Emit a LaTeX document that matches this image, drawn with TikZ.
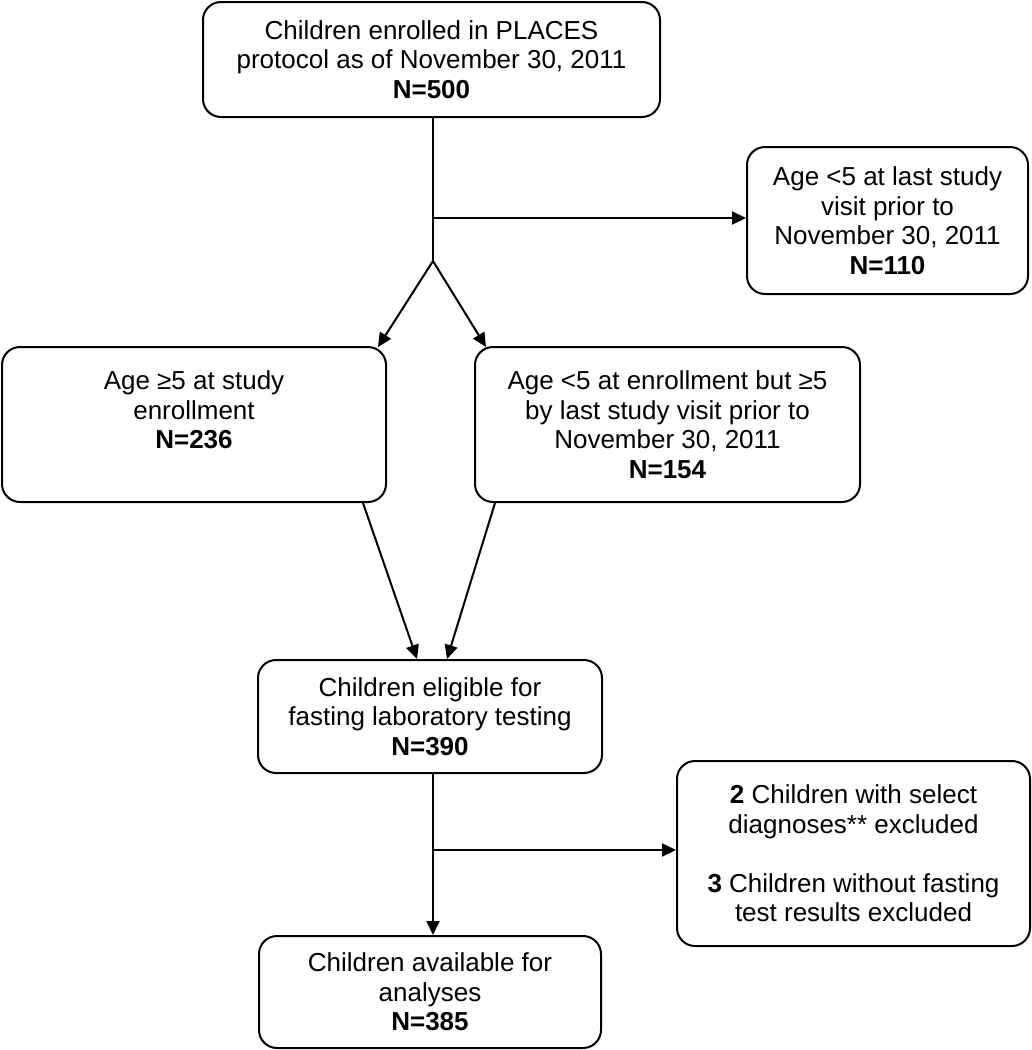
\documentclass[tikz,border=0pt]{standalone}
\usepackage{fontspec}
\setmainfont{Liberation Sans}
\usetikzlibrary{arrows.meta,calc}
\begin{document}
\begin{tikzpicture}[x=1pt,y=-1pt,
  box/.style={draw, line width=2pt, rounded corners=18pt, align=center, inner sep=0pt,
    font=\fontsize{26}{29.5}\selectfont},
  conn/.style={line width=2pt},
  arr/.style={line width=2pt, -{Triangle[length=14pt,width=13pt]}}]
\useasboundingbox (0,0) rectangle (1032,1050);
\node[box, minimum width=457pt, minimum height=115pt] (top) at (431.5,59.5)
  {Children enrolled in PLACES\\protocol as of November 30, 2011\\\textbf{N=500}};
\node[box, minimum width=281pt, minimum height=147pt] (excl1) at (887.5,220.5)
  {Age <5 at last study\\visit prior to\\November 30, 2011\\\textbf{N=110}};
\node[box, minimum width=384pt, minimum height=155pt] (left) at (194,424.5)
  {Age ≥5 at study\\enrollment\\\textbf{N=236}\\\mbox{}};
\node[box, minimum width=385pt, minimum height=155pt] (mid) at (667.5,424.5)
  {Age <5 at enrollment but ≥5\\by last study visit prior to\\November 30, 2011\\\textbf{N=154}};
\node[box, minimum width=344pt, minimum height=113pt] (elig) at (430,716.5)
  {Children eligible for\\fasting laboratory testing\\\textbf{N=390}};
\node[box, minimum width=353pt, minimum height=185pt] (excl2) at (853.5,853.5)
  {\textbf{2} Children with select\\diagnoses** excluded\\[29.5pt]\textbf{3} Children without fasting\\test results excluded};
\node[box, minimum width=342pt, minimum height=112pt] (final) at (430,992)
  {Children available for\\analyses\\\textbf{N=385}};
\coordinate (j1) at (433,218);
\coordinate (apex) at (433,261);
\coordinate (j2) at (433,850);
\draw[conn] (top.south -| apex) -- (apex);
\draw[arr] (j1) -- (j1 -| excl1.west);
\draw[arr] (apex) -- ($(left.north east)+(-9,1)$);
\draw[arr] (apex) -- ($(mid.north west)+(12,1)$);
\draw[arr] ($(left.south east)+(-24,0)$) -- ($(elig.north)+(-13,0)$);
\draw[arr] ($(mid.south west)+(21,0)$) -- ($(elig.north)+(17,0)$);
\draw[arr] (elig.south -| j2) -- (final.north -| j2);
\draw[arr] (j2) -- (j2 -| excl2.west);
\end{tikzpicture}
\end{document}
